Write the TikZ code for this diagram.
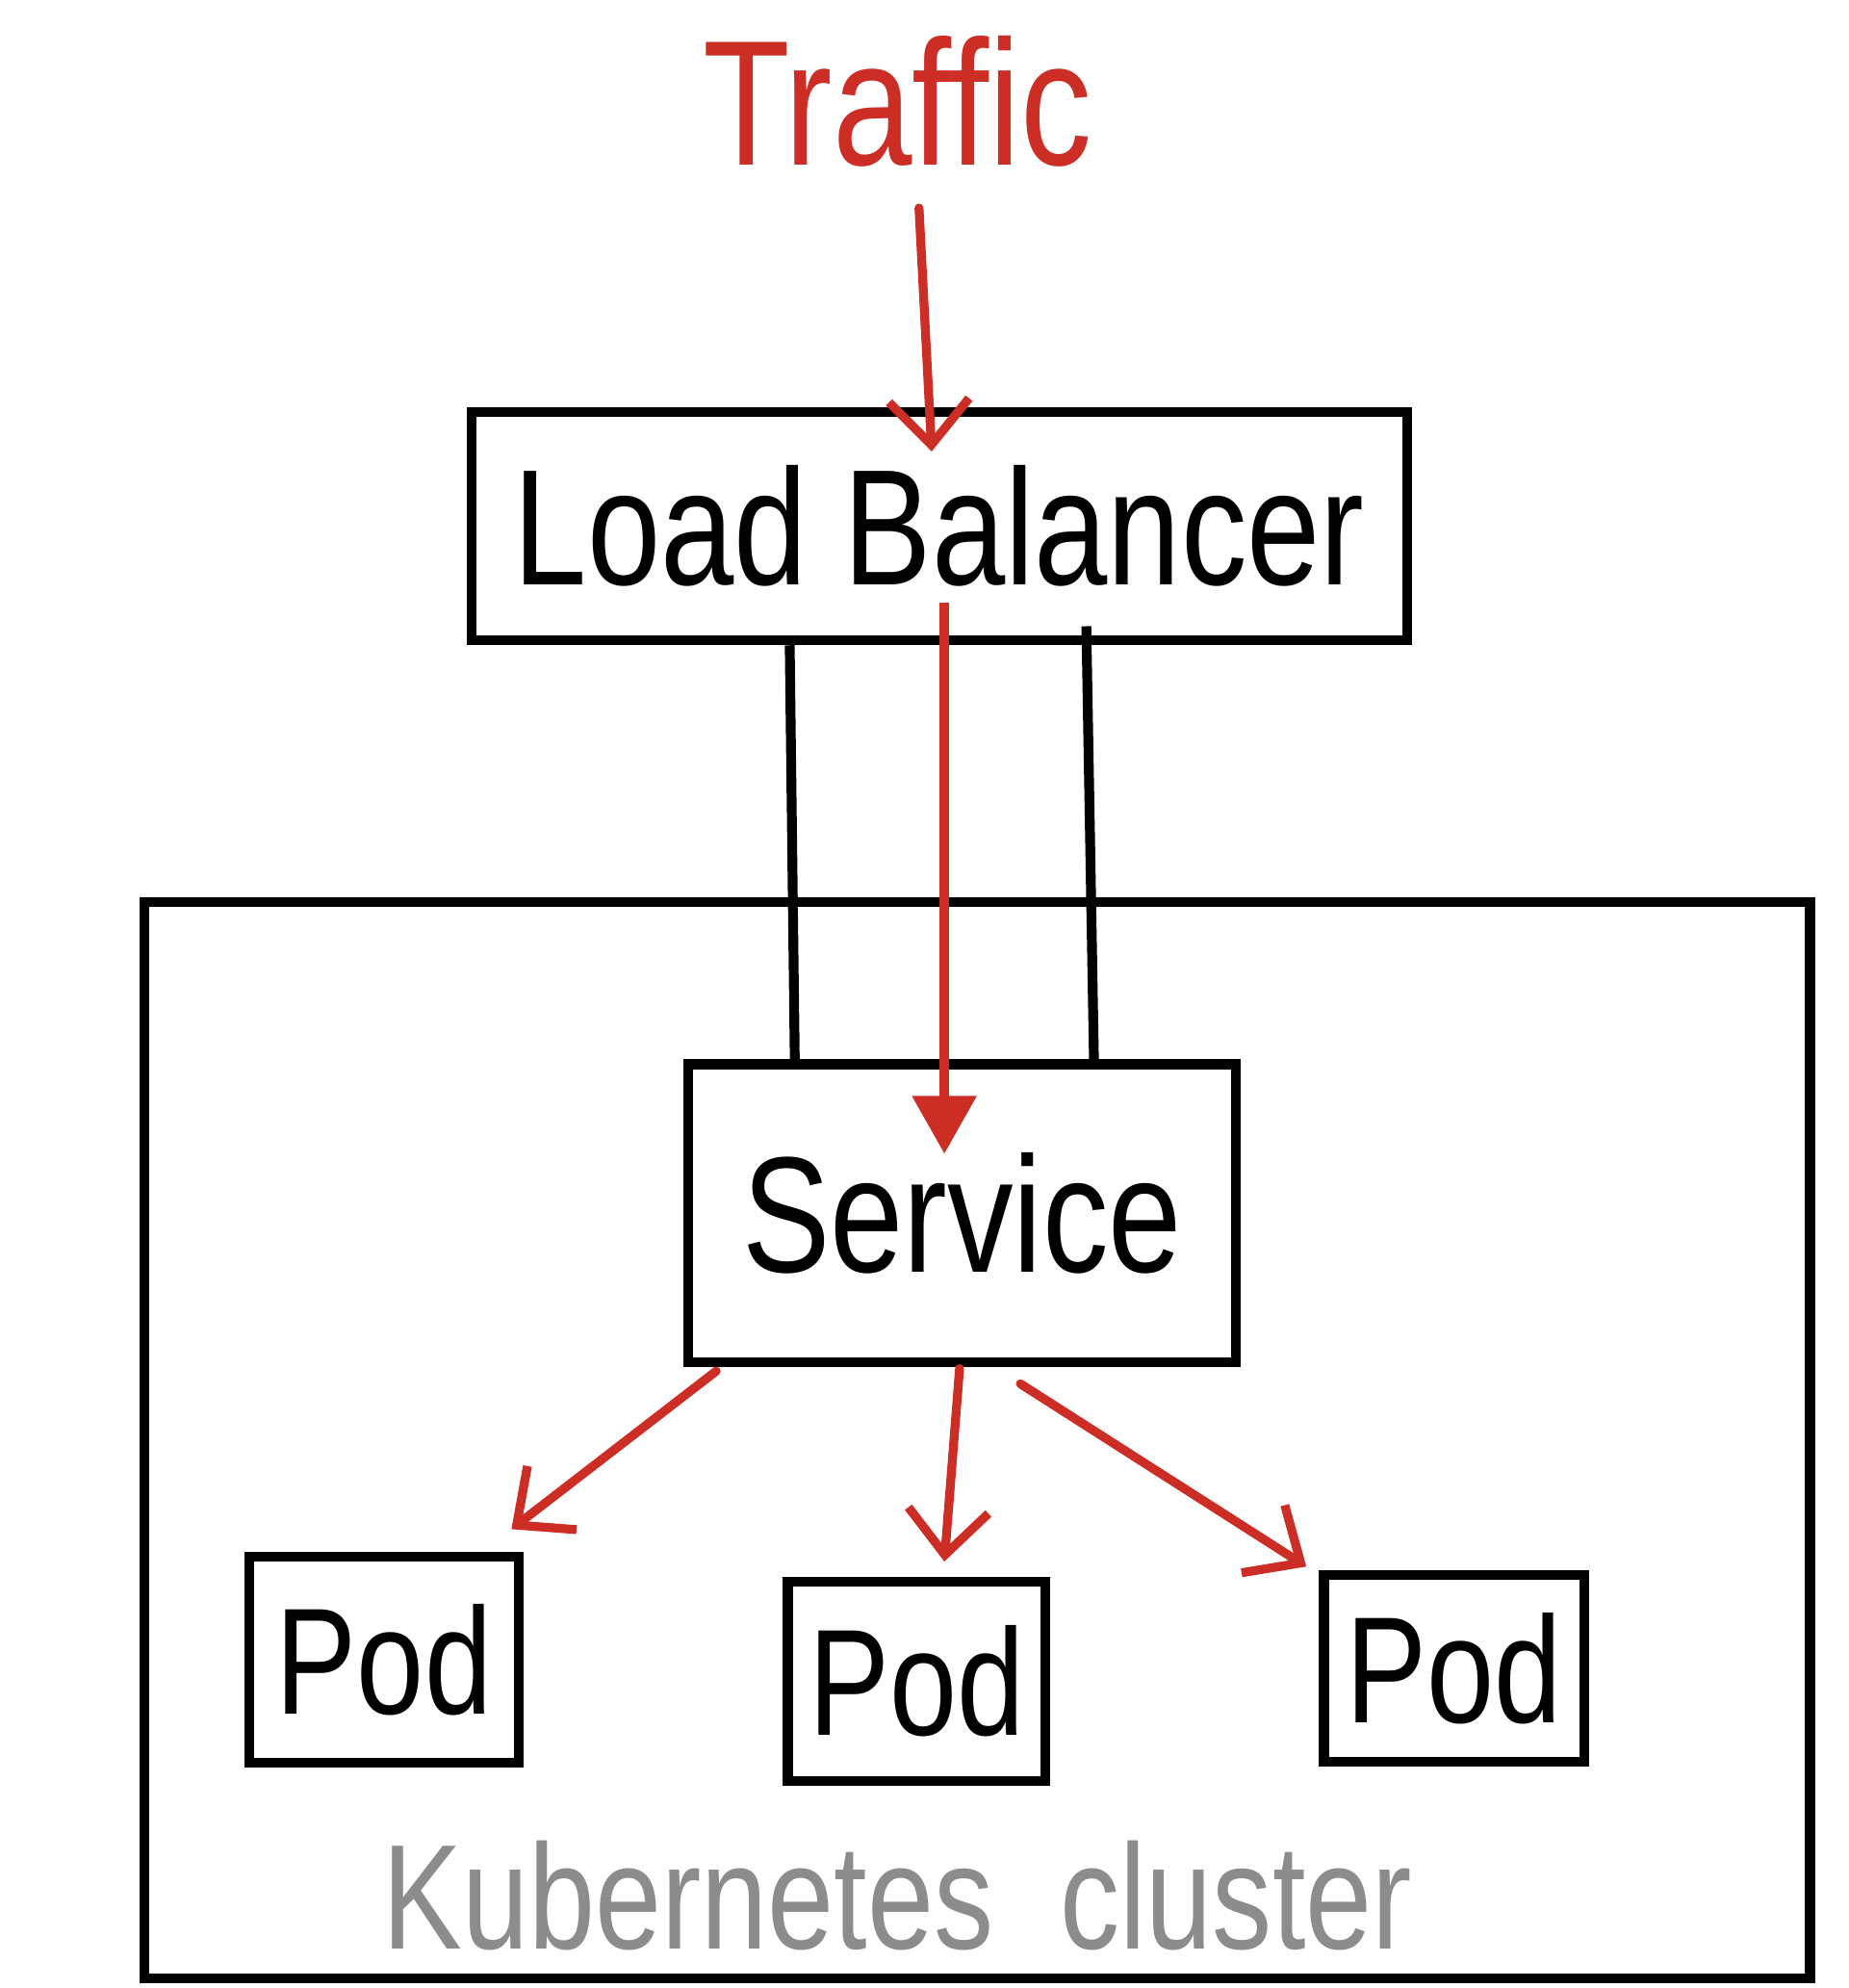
\documentclass[tikz,border=0pt]{standalone}
\usepackage{fontspec}
\newfontfamily\handfont[FakeStretch=0.8]{Liberation Sans}
\usetikzlibrary{arrows.meta}
\definecolor{flowred}{RGB}{204,45,36}
\definecolor{labelgray}{RGB}{140,140,140}
\begin{document}
\begin{tikzpicture}[x=0.01cm, y=-0.01cm,
  box/.style={draw, line width=2.2pt, inner sep=0pt, font=\handfont\fontsize{37}{40}\selectfont},
  podbox/.style={box, font=\handfont\fontsize{34}{36}\selectfont},
  flow/.style={flowred, line width=2pt, line cap=round, -{Straight Barb[length=10pt, width=18pt, line width=2pt]}},
  bigflow/.style={flowred, line width=2.2pt, -{Triangle[length=13pt, width=14pt]}},
  link/.style={line width=2.2pt}]
\useasboundingbox (0,0) rectangle (1458,1568);
\node[draw, line width=2.2pt, minimum width=13.13cm, minimum height=8.48cm] (cluster) at (771,1136) {};
\node[labelgray, font=\handfont\fontsize{33.5}{36}\selectfont] (clusterlabel) at (708,1495) {Kubernetes\ \ cluster};
\node[flowred, font=\handfont\fontsize{40}{44}\selectfont] (traffic) at (708,80) {Traffic};
\node[box, minimum width=7.38cm, minimum height=1.80cm] (lb) at (741,415) {Load Balancer};
\node[box, minimum width=4.32cm, minimum height=2.35cm] (svc) at (759,957) {Service};
\node[podbox, minimum width=2.13cm, minimum height=1.62cm] (pod1) at (303,1309) {Pod};
\node[podbox, minimum width=2.03cm, minimum height=1.57cm] (pod2) at (723,1326) {Pod};
\node[podbox, minimum width=2.05cm, minimum height=1.47cm] (pod3) at (1147,1316) {Pod};
\draw[flow] ([shift={(17,20)}]traffic.south) -- ([shift={(-6,35)}]lb.north);
\draw[link] ([shift={(-118,0)}]lb.south) -- ([shift={(-132,0)}]svc.north);
\draw[link] ([shift={(116,-15)}]lb.south) -- ([shift={(104,0)}]svc.north);
\draw[bigflow] ([shift={(4,60)}]lb.center) -- ([shift={(-14,-47)}]svc.center);
\draw[flow] ([shift={(-194,3)}]svc.south) -- ([shift={(-10,-18)}]pod1.north east);
\draw[flow] ([shift={(-2,1)}]svc.south) -- ([shift={(22,-12)}]pod2.north);
\draw[flow] ([shift={(46,13)}]svc.south) -- ([shift={(-10,-3)}]pod3.north west);
\end{tikzpicture}
\end{document}
